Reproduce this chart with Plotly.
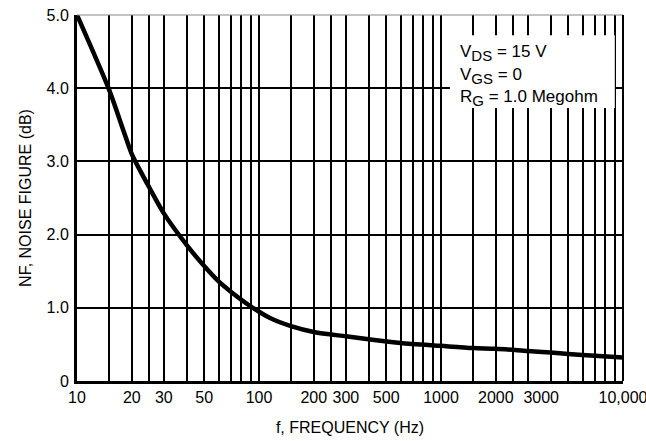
import plotly.graph_objects as go

# Data
freq_hz = [10, 15, 18, 20, 22.5, 25, 30, 40, 50, 60, 70, 90, 115, 150, 200, 300, 400, 600,
           1000, 1500, 2000, 3000, 4000, 5000, 7000, 10000]
noise_figure_db = [5.0, 3.98, 3.42, 3.10, 2.85, 2.64, 2.29, 1.86, 1.57, 1.36, 1.22, 1.02, 0.86,
                   0.75, 0.67, 0.61, 0.57, 0.52, 0.48, 0.45, 0.44, 0.41, 0.39, 0.37, 0.345, 0.32]

x_grid_vals = [10, 15, 20, 25, 30, 40, 50, 60, 70, 80, 90,
               100, 150, 200, 250, 300, 400, 500, 600, 700, 800, 900,
               1000, 1500, 2000, 2500, 3000, 4000, 5000, 6000, 7000, 8000, 9000, 10000]
x_label_map = {10: "10", 20: "20", 30: "30", 50: "50", 100: "100", 200: "200",
               300: "300", 500: "500", 1000: "1000", 2000: "2000",
               3000: "&nbsp;&nbsp;&nbsp;&nbsp;&nbsp;&nbsp;3000",
               10000: "10,000"}
x_tick_text = [x_label_map.get(v, "") for v in x_grid_vals]

y_tick_vals = [0, 1, 2, 3, 4, 5]
y_tick_text = ["0", "1.0", "2.0", "3.0", "4.0", "5.0"]

SUB = '<sub><span style="font-size:15px">{}</span></sub>'
conditions = ["V" + SUB.format("DS") + " = 15 V",
              "V" + SUB.format("GS") + " = 0",
              "R" + SUB.format("G") + " = 1.0 Megohm"]

FONT = "Liberation Sans, Arial, Helvetica, sans-serif"
FS = 16

fig = go.Figure()
fig.add_trace(go.Scatter(x=freq_hz, y=noise_figure_db, mode="lines",
                         line=dict(color="black", width=4.5, shape="spline", smoothing=0.8),
                         showlegend=False, hoverinfo="skip"))

fig.update_layout(
    width=646, height=441,
    margin=dict(l=77, r=23, t=15, b=60),
    paper_bgcolor="white", plot_bgcolor="white",
    font=dict(family=FONT, size=FS, color="black"),
    xaxis=dict(type="log", range=[1, 4], tickmode="array", tickvals=x_grid_vals,
               ticktext=x_tick_text, tickangle=0, automargin=False, ticklabeloverflow="allow",
               showgrid=True, gridcolor="black", gridwidth=2,
               showline=True, linecolor="black", linewidth=3, ticks="", zeroline=False,
               ticklabelstandoff=0,
               title=dict(text="f, FREQUENCY (Hz)", font=dict(family=FONT, size=FS), standoff=17),
               tickfont=dict(family=FONT, size=FS)),
    yaxis=dict(range=[0, 5], tickmode="array", tickvals=y_tick_vals, ticktext=y_tick_text,
               automargin=False, showgrid=True, gridcolor="black", gridwidth=2, zeroline=False,
               showline=True, linecolor="black", linewidth=3, ticks="",
               ticklabelstandoff=2,
               title=dict(text="NF, NOISE FIGURE (dB)", font=dict(family=FONT, size=FS), standoff=11),
               tickfont=dict(family=FONT, size=FS)),
)

# frame: thin grey top, black right
fig.add_shape(type="line", xref="paper", yref="paper", x0=0, x1=1, y0=1, y1=1,
              line=dict(color="#888888", width=1.2), layer="above")
fig.add_shape(type="line", xref="paper", yref="paper", x0=1, x1=1, y0=0, y1=1,
              line=dict(color="black", width=2), layer="above")

# white box behind the conditions text
fig.add_shape(type="rect", xref="paper", yref="paper", x0=0.683, x1=0.985, y0=0.746, y1=0.945,
              fillcolor="white", line=dict(width=0), layer="above")

line_y = [0.895, 0.833, 0.772]
for txt, yy in zip(conditions, line_y):
    fig.add_annotation(xref="paper", yref="paper", x=0.697, y=yy, text=txt,
                       showarrow=False, xanchor="left", yanchor="middle",
                       font=dict(family=FONT, size=17, color="black"))

fig.write_html("out.html")
